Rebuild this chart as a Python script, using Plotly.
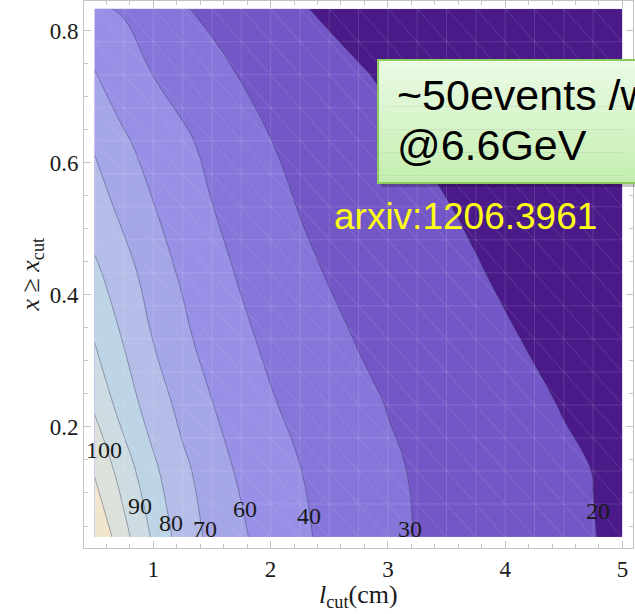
import numpy as np
import plotly.graph_objects as go

# ---------------------------------------------------------------------------
# Event-count grid: rows follow x_cut, columns follow l_cut (cm)
# ---------------------------------------------------------------------------
l_cut = [0.5, 0.75, 1.0, 1.25, 1.5, 1.75, 2.0, 2.25, 2.5, 2.75,
         3.0, 3.25, 3.5, 3.75, 4.0, 4.25, 4.5, 4.75, 5.0]
x_cut = [1/30, 4/30, 7/30, 10/30, 13/30, 16/30, 19/30, 22/30, 25/30]

events = [
    [120.0, 103.1, 88.5, 75.0, 67.7, 62.0, 53.8, 41.3, 38.3, 35.2, 32.2, 29.6, 28.0, 26.5, 24.9, 23.4, 21.8, 20.2, 18.5],
    [109.0, 95.3, 82.0, 72.2, 65.1, 58.2, 49.1, 40.2, 37.1, 34.3, 31.4, 29.2, 27.6, 26.1, 24.5, 23.0, 21.4, 19.9, 18.3],
    [98.5, 85.2, 75.2, 67.1, 60.5, 51.5, 40.7, 37.9, 35.1, 32.2, 29.7, 28.0, 26.3, 24.6, 23.0, 21.3, 19.6, 18.0, 16.5],
    [89.5, 79.2, 69.7, 63.0, 54.5, 41.5, 38.4, 35.3, 32.2, 29.5, 27.8, 26.1, 24.3, 22.6, 20.9, 19.2, 17.6, 16.0, 14.5],
    [82.1, 73.4, 65.8, 58.3, 42.5, 39.2, 35.7, 32.2, 29.4, 27.6, 25.8, 24.1, 22.3, 20.6, 18.8, 17.1, 15.5, 14.0, 12.5],
    [74.4, 67.5, 60.6, 50.6, 40.2, 36.5, 32.9, 29.6, 27.8, 25.9, 24.0, 22.2, 20.3, 18.6, 17.0, 15.5, 14.0, 12.6, 11.2],
    [68.8, 62.1, 52.8, 41.6, 37.4, 33.7, 30.1, 27.9, 25.9, 23.8, 21.7, 19.7, 18.0, 16.4, 14.9, 13.5, 12.2, 11.0, 9.8],
    [61.3, 50.2, 39.7, 36.2, 32.7, 29.5, 27.3, 25.1, 23.0, 20.8, 18.8, 17.0, 15.4, 14.0, 12.7, 11.5, 10.4, 9.4, 8.5],
    [42.5, 38.2, 34.5, 30.7, 28.0, 25.6, 23.1, 20.7, 18.5, 16.6, 15.0, 13.6, 12.4, 11.3, 10.3, 9.4, 8.6, 7.9, 7.2],
]

# contour levels that carry a drawn line (there is no 50 contour)
line_levels = [20, 30, 40, 60, 70, 80, 90, 100, 110]

# labelled contours and where their labels sit (l_cut, x_cut)
label_levels = [100, 90, 80, 70, 60, 40, 30, 20]
label_l = [0.58, 0.89, 1.15, 1.44, 1.78, 2.33, 3.19, 4.79]
label_x = [0.165, 0.080, 0.055, 0.045, 0.076, 0.065, 0.045, 0.073]

# band colours from <20 up to >110 (40-50 and 50-60 share one band)
band_colors = ["#4a1a88", "#7357c6", "#8676da", "#9890e6", "#9890e6",
               "#a5a6e8", "#b3bde8", "#bdd3e6", "#ccdce2", "#dce1dc", "#f1e5cc"]

x_ticks = [1, 2, 3, 4, 5]
y_ticks = [0.2, 0.4, 0.6, 0.8]

SERIF = "Liberation Serif, Times New Roman, Times, serif"
SANS = "Liberation Sans, Arial, sans-serif"

# ---------------------------------------------------------------------------
fig = go.Figure()

# filled bands
fig.add_trace(go.Contour(
    x=l_cut, y=x_cut, z=events,
    contours=dict(start=20, end=110, size=10, coloring="fill", showlines=False),
    colorscale=[[i / (len(band_colors) - 1), c] for i, c in enumerate(band_colors)],
    line=dict(width=0, smoothing=1.3),
    showscale=False, hoverinfo="skip",
))

# contour lines, one per level
for lev in line_levels:
    fig.add_trace(go.Contour(
        x=l_cut, y=x_cut, z=events,
        contours=dict(type="constraint", operation="=", value=lev),
        line=dict(color="rgba(45,45,75,0.38)", width=1, smoothing=1.3),
        fillcolor="rgba(0,0,0,0)",
        showscale=False, hoverinfo="skip", showlegend=False,
    ))

# faint sampling mesh over the filled region
mesh_l = np.arange(0.5, 5.0 + 1e-9, 0.25)
mesh_y = 1/30 + 0.05 * np.arange(17)
mx, my = [], []
for lv in mesh_l:
    mx += [lv, lv, None]
    my += [mesh_y[0], mesh_y[-1], None]
for yv in mesh_y:
    mx += [mesh_l[0], mesh_l[-1], None]
    my += [yv, yv, None]
ni, nj = len(mesh_l), len(mesh_y)
for s in range(1, ni + nj - 2):
    pts = [(i, s - i) for i in range(ni) if 0 <= s - i < nj]
    if len(pts) < 2:
        continue
    for i, j in pts:
        mx.append(mesh_l[i])
        my.append(mesh_y[j])
    mx.append(None)
    my.append(None)
fig.add_trace(go.Scatter(
    x=mx, y=my, mode="lines",
    line=dict(color="rgba(255,255,255,0.13)", width=1),
    hoverinfo="skip", showlegend=False,
))

# contour value labels
for lev, lx, ly in zip(label_levels, label_l, label_x):
    fig.add_annotation(
        x=lx, y=ly, xref="x", yref="y", text=str(lev), showarrow=False,
        font=dict(family=SERIF, size=24, color="#1a1a1a"),
        xanchor="center", yanchor="middle",
    )

# ---------------------------------------------------------------------------
# layout
PLOT_L, PLOT_R, PLOT_T, PLOT_B = 84, 633, 1, 548
W, H = 635, 614


def paper_x(px):
    return (px - PLOT_L) / (PLOT_R - PLOT_L)


def paper_y(py):
    return (PLOT_B - py) / (PLOT_B - PLOT_T)


frame = "#c4c4c4"
axis_common = dict(
    showline=True, linecolor=frame, linewidth=1, mirror="ticks",
    ticks="inside", ticklen=7, tickcolor=frame, tickwidth=1,
    showgrid=False, zeroline=False,
    tickfont=dict(family=SERIF, size=23, color="#1a1a1a"),
)

fig.update_layout(
    width=W, height=H,
    margin=dict(l=PLOT_L, r=W - PLOT_R, t=PLOT_T, b=H - PLOT_B),
    plot_bgcolor="white", paper_bgcolor="white",
    showlegend=False,
    xaxis=dict(range=[0.409, 5.09], tickvals=x_ticks,
               minor=dict(ticks="inside", tick0=0, dtick=0.2, ticklen=4,
                          tickcolor=frame, showgrid=False),
               **axis_common),
    yaxis=dict(range=[0.0167, 0.845], tickvals=y_ticks, tickformat=".1f",
               minor=dict(ticks="inside", tick0=0, dtick=0.05, ticklen=4,
                          tickcolor=frame, showgrid=False),
               **axis_common),
)

# axis titles
fig.add_annotation(
    xref="paper", yref="paper", x=0.5, y=0, yshift=-(596 - PLOT_B),
    text="<i>l</i><sub>cut</sub>(cm)", showarrow=False,
    font=dict(family=SERIF, size=26, color="#1a1a1a"),
    xanchor="center", yanchor="middle",
)
fig.add_annotation(
    xref="paper", yref="paper", x=0, y=0.5, xshift=-(PLOT_L - 31),
    text="<i>x</i> ≥ <i>x</i><sub>cut</sub>", showarrow=False, textangle=-90,
    font=dict(family=SERIF, size=26, color="#1a1a1a"),
    xanchor="center", yanchor="middle",
)

# green callout box with soft vertical gradient and shadow
box_l, box_r, box_t, box_b = 378, 720, 60, 183
fig.add_shape(type="rect", xref="paper", yref="paper",
              x0=paper_x(box_l + 3), x1=paper_x(box_r + 3),
              y0=paper_y(box_b + 4), y1=paper_y(box_t + 4),
              line=dict(width=0), fillcolor="rgba(0,0,0,0.22)")
top_rgb = np.array([236, 251, 230])
bot_rgb = np.array([196, 239, 176])
n_strips = 16
for k in range(n_strips):
    t0 = box_t + (box_b - box_t) * k / n_strips
    t1 = box_t + (box_b - box_t) * (k + 1) / n_strips
    c = top_rgb + (bot_rgb - top_rgb) * (k + 0.5) / n_strips
    fig.add_shape(type="rect", xref="paper", yref="paper",
                  x0=paper_x(box_l), x1=paper_x(box_r),
                  y0=paper_y(t1 + 0.5), y1=paper_y(t0),
                  line=dict(width=0),
                  fillcolor="rgb(%d,%d,%d)" % tuple(int(v) for v in c))
fig.add_shape(type="rect", xref="paper", yref="paper",
              x0=paper_x(box_l), x1=paper_x(box_r),
              y0=paper_y(box_b), y1=paper_y(box_t),
              line=dict(color="#8ccb5e", width=2), fillcolor="rgba(0,0,0,0)")

fig.add_annotation(
    xref="paper", yref="paper", x=paper_x(395), y=paper_y(95),
    text="~50events /w", showarrow=False,
    font=dict(family=SANS, size=43, color="#000000"),
    xanchor="left", yanchor="middle",
)
fig.add_annotation(
    xref="paper", yref="paper", x=paper_x(395), y=paper_y(145),
    text="@6.6GeV", showarrow=False,
    font=dict(family=SANS, size=43, color="#000000"),
    xanchor="left", yanchor="middle",
)
fig.add_annotation(
    xref="paper", yref="paper", x=paper_x(332), y=paper_y(217),
    text="arxiv:1206.3961", showarrow=False,
    font=dict(family=SANS, size=37, color="#ffff14"),
    xanchor="left", yanchor="middle",
)

fig.write_html("out.html")
